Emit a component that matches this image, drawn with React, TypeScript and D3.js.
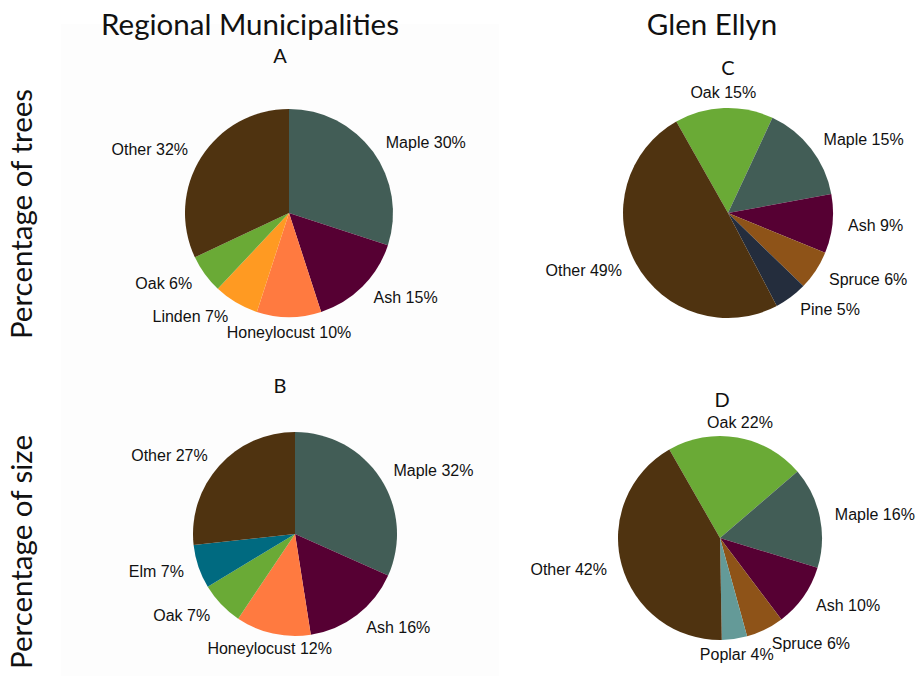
import React from 'react';
import * as d3 from 'd3';

// species colours
const colors: Record<string, string> = {
  Maple: '#425d56',
  Ash: '#560033',
  Honeylocust: '#ff7a40',
  Linden: '#ff9a22',
  Oak: '#6aaa36',
  Elm: '#006a80',
  Spruce: '#8e5318',
  Pine: '#242d3d',
  Poplar: '#649a98',
  Other: '#4f3310',
};

// A: regional municipalities, percentage of trees
const namesA = ['Maple', 'Ash', 'Honeylocust', 'Linden', 'Oak', 'Other'];
const valuesA = [30, 15, 10, 7, 6, 32];

// B: regional municipalities, percentage of size
const namesB = ['Maple', 'Ash', 'Honeylocust', 'Oak', 'Elm', 'Other'];
const valuesB = [32, 16, 12, 7, 7, 27];

// C: Glen Ellyn, percentage of trees
const namesC = ['Oak', 'Maple', 'Ash', 'Spruce', 'Pine', 'Other'];
const valuesC = [15, 15, 9, 6, 5, 49];

// D: Glen Ellyn, percentage of size
const namesD = ['Oak', 'Maple', 'Ash', 'Spruce', 'Poplar', 'Other'];
const valuesD = [22, 16, 10, 6, 4, 42];

const panels = [
  { key: 'A', names: namesA, values: valuesA, cx: 289, cy: 213, r: 104, start: 0, lx: 280, ly: 55 },
  { key: 'B', names: namesB, values: valuesB, cx: 295, cy: 534, r: 102, start: 0, lx: 280, ly: 385 },
  { key: 'C', names: namesC, values: valuesC, cx: 728, cy: 213, r: 105, start: -29.5, lx: 728, ly: 67 },
  { key: 'D', names: namesD, values: valuesD, cx: 720, cy: 538, r: 102, start: -29.8, lx: 722, ly: 399 },
];

const labelFont = '"Liberation Sans", Arial, sans-serif';
const titleFont = 'Lato, "Open Sans", sans-serif';

function Pie({ p }: { p: (typeof panels)[number] }) {
  const a0 = (p.start * Math.PI) / 180;
  const pie = d3
    .pie<number>()
    .sort(null)
    .value((d) => d)
    .startAngle(a0)
    .endAngle(a0 + 2 * Math.PI);
  const arcs = pie(p.values);
  const arc = d3.arc<d3.PieArcDatum<number>>().innerRadius(0).outerRadius(p.r);
  const lr = p.r * 1.15;

  return (
    <g>
      <text
        x={p.lx}
        y={p.ly}
        textAnchor="middle"
        dominantBaseline="central"
        fontFamily={titleFont}
        fontSize={20}
        fill="#111"
      >
        {p.key}
      </text>
      <g transform={`translate(${p.cx},${p.cy})`}>
        {arcs.map((a, i) => (
          <path key={i} d={arc(a) || ''} fill={colors[p.names[i]]} />
        ))}
        {arcs.map((a, i) => {
          const mid = (a.startAngle + a.endAngle) / 2;
          const s = Math.sin(mid);
          const x = lr * s;
          const y = -lr * Math.cos(mid);
          const anchor = Math.abs(s) < 0.3 ? 'middle' : s > 0 ? 'start' : 'end';
          return (
            <text
              key={'l' + i}
              x={x}
              y={y}
              dy="0.35em"
              textAnchor={anchor}
              fontFamily={labelFont}
              fontSize={16}
              fill="#111"
            >
              {`${p.names[i]} ${p.values[i]}%`}
            </text>
          );
        })}
      </g>
    </g>
  );
}

export default function App() {
  return (
    <svg
      width={917}
      height={676}
      style={{ position: 'absolute', left: 0, top: 0, background: '#fff' }}
    >
      <rect x={61} y={24} width={438} height={652} fill="#fdfdfd" />
      <text x={250} y={35} textAnchor="middle" fontFamily={titleFont} fontSize={29.5} fill="#111">
        Regional Municipalities
      </text>
      <text x={712} y={35} textAnchor="middle" fontFamily={titleFont} fontSize={29.5} fill="#111">
        Glen Ellyn
      </text>
      <text
        transform="translate(32,214) rotate(-90)"
        textAnchor="middle"
        fontFamily={titleFont}
        fontSize={29.5}
        fill="#111"
      >
        Percentage of trees
      </text>
      <text
        transform="translate(32,552) rotate(-90)"
        textAnchor="middle"
        fontFamily={titleFont}
        fontSize={29.5}
        fill="#111"
      >
        Percentage of size
      </text>
      {panels.map((p) => (
        <Pie key={p.key} p={p} />
      ))}
    </svg>
  );
}
